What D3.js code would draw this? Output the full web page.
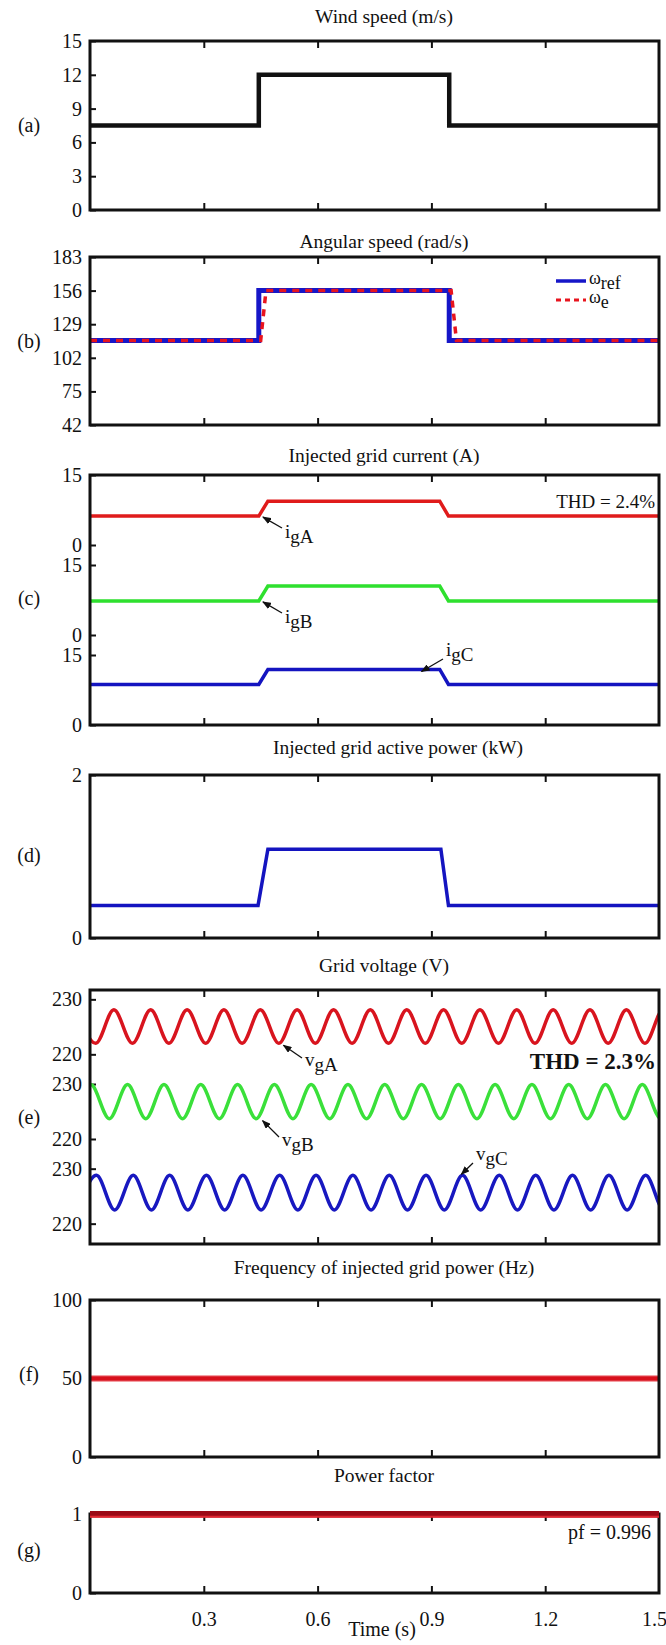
<!DOCTYPE html>
<html>
<head>
<meta charset="utf-8">
<script src="https://cdn.jsdelivr.net/npm/d3@7"></script>
<style>
  body { margin: 0; background: #fff; }
  text { font-family: "Liberation Serif", "DejaVu Serif", serif; fill: #111; }
</style>
</head>
<body>
<div id="chart"></div>
<script>
const W = 666, H = 1645;
const SERIF = '"Liberation Serif", "DejaVu Serif", serif';

// ---- data ----
const timeTicks = [0.3, 0.6, 0.9, 1.2, 1.5];

// (a) wind speed, m/s
const windT = [0, 0.445, 0.445, 0.947, 0.947, 1.5];
const windV = [7.5, 7.5, 12, 12, 7.5, 7.5];
const windTicks = [0, 3, 6, 9, 12, 15];

// (b) angular speed, rad/s
const omegaRefT = [0, 0.445, 0.445, 0.947, 0.947, 1.5];
const omegaRefV = [116, 116, 156, 156, 116, 116];
const omegaET = [0, 0.450, 0.464, 0.952, 0.966, 1.5];
const omegaEV = [116, 116, 156, 156, 116, 116];
const speedTicks = [48, 75, 102, 129, 156, 183];
const speedTickLabels = ["42", "75", "102", "129", "156", "183"];

// (c) injected grid current, A (one 0..15 strip per phase)
const currentT = [0, 0.445, 0.469, 0.922, 0.945, 1.5];
const igA = [6.2, 6.2, 9.4, 9.4, 6.2, 6.2];
const igB = [7.3, 7.3, 10.5, 10.5, 7.3, 7.3];
const igC = [8.7, 8.7, 11.9, 11.9, 8.7, 8.7];
const currentTicks = [0, 15];

// (d) injected active power, kW
const powerT = [0, 0.443, 0.469, 0.925, 0.945, 1.5];
const powerV = [0.4, 0.4, 1.09, 1.09, 0.4, 0.4];
const powerTicks = [0, 2];

// (e) grid voltage, V : times of crests / troughs and their levels
const vgAPeakT = [-0.033, 0.063, 0.160, 0.256, 0.353, 0.449, 0.546, 0.642, 0.739, 0.835, 0.932, 1.028, 1.125, 1.221, 1.318, 1.414, 1.511];
const vgATroughT = [0.015, 0.112, 0.208, 0.305, 0.401, 0.498, 0.594, 0.691, 0.787, 0.884, 0.980, 1.077, 1.173, 1.270, 1.366, 1.463, 1.559];
const vgBPeakT = [0.002, 0.099, 0.195, 0.292, 0.389, 0.486, 0.583, 0.680, 0.777, 0.874, 0.971, 1.068, 1.165, 1.262, 1.359, 1.456, 1.553];
const vgBTroughT = [-0.046, 0.051, 0.147, 0.244, 0.341, 0.438, 0.535, 0.632, 0.729, 0.826, 0.923, 1.020, 1.117, 1.214, 1.311, 1.408, 1.505];
const vgCPeakT = [0.017, 0.114, 0.210, 0.307, 0.403, 0.500, 0.596, 0.693, 0.789, 0.886, 0.982, 1.079, 1.175, 1.272, 1.368, 1.465, 1.561];
const vgCTroughT = [-0.031, 0.065, 0.162, 0.258, 0.355, 0.451, 0.548, 0.644, 0.741, 0.837, 0.934, 1.030, 1.127, 1.223, 1.320, 1.416, 1.513];
const vgALevels = [228.1, 222.0];
const vgBLevels = [229.9, 223.7];
const vgCLevels = [228.8, 222.5];
const voltTicks = [220, 230];

// (f) frequency, Hz
const freqT = [0, 1.5];
const freqV = [50, 50];
const freqTicks = [0, 50, 100];

// (g) power factor
const pfT = [0, 1.5];
const pfV = [0.996, 0.996];
const pfTicks = [0, 1];

// ---- layout ----
const svg = d3.select("#chart").append("svg").attr("width", W).attr("height", H);
const x = d3.scaleLinear().domain([0, 1.5]).range([90, 659]);
const intFmt = d3.format("~g");

svg.append("defs").append("marker")
  .attr("id", "arr").attr("markerUnits", "userSpaceOnUse")
  .attr("markerWidth", 9).attr("markerHeight", 7)
  .attr("refX", 8).attr("refY", 3.5).attr("orient", "auto")
  .append("path").attr("d", "M0,0L9,3.5L0,7Z").attr("fill", "#111");

svg.select("defs").append("clipPath").attr("id", "plotclip")
  .append("rect").attr("x", 90).attr("y", 0).attr("width", 569).attr("height", H);

function styleAxis(sel, size) {
  sel.attr("font-family", SERIF).attr("font-size", size);
  sel.select(".domain").remove();
  sel.selectAll(".tick line").attr("stroke", "#111").attr("stroke-width", 2);
  sel.selectAll(".tick text").attr("fill", "#111");
}

function panel(top, bottom, title, titleX, titleY, tag, tagY) {
  const g = svg.append("g");
  g.append("text").attr("x", titleX).attr("y", titleY).attr("text-anchor", "middle")
    .attr("font-size", 19.5).text(title);
  g.append("text").attr("x", 29).attr("y", tagY).attr("text-anchor", "middle")
    .attr("dominant-baseline", "middle").attr("font-size", 20).text(tag);
  g.append("g").attr("transform", `translate(0,${top})`)
    .call(d3.axisTop(x).tickValues(timeTicks.slice(0, 4)).tickSize(-7).tickFormat(""))
    .call(styleAxis, 19);
  g.append("g").attr("transform", `translate(0,${bottom})`)
    .call(d3.axisBottom(x).tickValues(timeTicks.slice(0, 4)).tickSize(-7).tickFormat(""))
    .call(styleAxis, 19);
  return g;
}

function yAxis(g, y, ticks, labels) {
  const ax = d3.axisLeft(y).tickValues(ticks).tickSize(-6).tickPadding(8)
    .tickFormat(labels ? (d, i) => labels[i] : intFmt);
  g.append("g").attr("transform", "translate(90,0)").call(ax).call(styleAxis, 20);
}

function border(g, top, bottom) {
  g.append("rect").attr("x", 90).attr("y", top).attr("width", 569).attr("height", bottom - top)
    .attr("fill", "none").attr("stroke", "#111").attr("stroke-width", 3);
}

function drawLine(g, y, ts, vs, color, width, curve) {
  const line = d3.line().x(d => x(d[0])).y(d => y(d[1])).curve(curve || d3.curveLinear);
  return g.append("path").datum(ts.map((t, i) => [t, vs[i]]))
    .attr("d", line).attr("fill", "none").attr("stroke", color)
    .attr("stroke-width", width).attr("stroke-linejoin", "miter");
}

function label(g, tx, ty, main, sub, size) {
  const t = g.append("text").attr("x", tx).attr("y", ty).attr("font-size", size || 19);
  t.append("tspan").text(main);
  t.append("tspan").attr("dy", 5).text(sub);
}

function arrow(g, x1, y1, x2, y2) {
  g.append("line").attr("x1", x1).attr("y1", y1).attr("x2", x2).attr("y2", y2)
    .attr("stroke", "#111").attr("stroke-width", 1.3).attr("marker-end", "url(#arr)");
}

// (a)
{
  const top = 41, bottom = 210;
  const g = panel(top, bottom, "Wind speed (m/s)", 384, 23, "(a)", 127);
  const y = d3.scaleLinear().domain([0, 15]).range([bottom, top]);
  yAxis(g, y, windTicks);
  drawLine(g, y, windT, windV, "#111", 4.5);
  border(g, top, bottom);
}

// (b)
{
  const top = 257, bottom = 425;
  const g = panel(top, bottom, "Angular speed (rad/s)", 384, 248, "(b)", 343);
  const y = d3.scaleLinear().domain([48, 183]).range([bottom, top]);
  yAxis(g, y, speedTicks, speedTickLabels);
  drawLine(g, y, omegaRefT, omegaRefV, "#1616c8", 5);
  drawLine(g, y, omegaET, omegaEV, "#e8141e", 3.5).attr("stroke-dasharray", "7,6");
  border(g, top, bottom);
  // legend
  const lx = 556, ly1 = 281, ly2 = 300;
  g.append("line").attr("x1", lx).attr("x2", lx + 30).attr("y1", ly1).attr("y2", ly1)
    .attr("stroke", "#1616c8").attr("stroke-width", 3.5);
  g.append("line").attr("x1", lx).attr("x2", lx + 30).attr("y1", ly2).attr("y2", ly2)
    .attr("stroke", "#e8141e").attr("stroke-width", 3).attr("stroke-dasharray", "5,4");
  label(g, lx + 33, ly1 + 3, "ω", "ref", 18);
  label(g, lx + 33, ly2 + 3, "ω", "e", 18);
}

// (c)
{
  const top = 475, bottom = 725;
  const g = panel(top, bottom, "Injected grid current (A)", 384, 462, "(c)", 600);
  const bands = [[475, 545], [565, 635], [655, 725]];
  const series = [[igA, "#e01b1b"], [igB, "#2ee02e"], [igC, "#1414c0"]];
  const ys = bands.map(b => d3.scaleLinear().domain([0, 15]).range([b[1], b[0]]));
  ys.forEach(y => yAxis(g, y, currentTicks));
  series.forEach((s, i) => drawLine(g, ys[i], currentT, s[0], s[1], 3.5));
  border(g, top, bottom);
  g.append("text").attr("x", 655).attr("y", 508).attr("text-anchor", "end")
    .attr("font-size", 19).text("THD = 2.4%");
  arrow(g, 282, 528, x(0.456), ys[0](igA[0]) + 1);
  label(g, 285, 538, "i", "gA");
  arrow(g, 282, 613, x(0.456), ys[1](igB[0]) + 1);
  label(g, 285, 623, "i", "gB");
  arrow(g, 443, 659, x(0.874), ys[2](igC[2]) + 2);
  label(g, 446, 656, "i", "gC");
}

// (d)
{
  const top = 775, bottom = 938;
  const g = panel(top, bottom, "Injected grid active power (kW)", 398, 754, "(d)", 857);
  const y = d3.scaleLinear().domain([0, 2]).range([bottom, top]);
  yAxis(g, y, powerTicks);
  drawLine(g, y, powerT, powerV, "#1414c0", 3.5);
  border(g, top, bottom);
}

// (e)
{
  const top = 990, bottom = 1244;
  const g = panel(top, bottom, "Grid voltage (V)", 384, 972, "(e)", 1119);
  const h = (bottom - top) / 3;
  const ys = [0, 1, 2].map(i => d3.scaleLinear().domain([216.3, 231.7]).range([top + h * (i + 1), top + h * i]));
  ys.forEach(y => yAxis(g, y, voltTicks));
  const waves = [
    [vgAPeakT, vgATroughT, vgALevels, "#d8141e"],
    [vgBPeakT, vgBTroughT, vgBLevels, "#3ae03a"],
    [vgCPeakT, vgCTroughT, vgCLevels, "#1818c0"]
  ];
  const cg = g.append("g").attr("clip-path", "url(#plotclip)");
  waves.forEach((w, i) => {
    const pts = w[0].map(t => [t, w[2][0]]).concat(w[1].map(t => [t, w[2][1]]))
      .sort((a, b) => a[0] - b[0]);
    drawLine(cg, ys[i], pts.map(p => p[0]), pts.map(p => p[1]), w[3], 3.5, d3.curveMonotoneX);
  });
  border(g, top, bottom);
  g.append("text").attr("x", 656).attr("y", 1069).attr("text-anchor", "end")
    .attr("font-family", '"Liberation Sans", Arial, sans-serif').attr("font-weight", "bold")
    .attr("font-size", 23).text("THD = 2.3%");
  arrow(g, 302, 1058, x(0.510), ys[0](vgALevels[1]) + 2);
  label(g, 305, 1066, "v", "gA");
  arrow(g, 279, 1137, x(0.455), ys[1](vgBLevels[1]) + 2);
  label(g, 282, 1146, "v", "gB");
  arrow(g, 473, 1163, x(0.979), ys[2](vgCLevels[0]) - 1);
  label(g, 476, 1160, "v", "gC");
}

// (f)
{
  const top = 1300, bottom = 1457;
  const g = panel(top, bottom, "Frequency of injected grid power (Hz)", 384, 1274, "(f)", 1376);
  const y = d3.scaleLinear().domain([0, 100]).range([bottom, top]);
  yAxis(g, y, freqTicks);
  drawLine(g, y, freqT, freqV, "#f4a0a4", 7);
  drawLine(g, y, freqT, freqV, "#d8101c", 4.5);
  border(g, top, bottom);
}

// (g)
{
  const top = 1514, bottom = 1593;
  const g = panel(top, bottom, "Power factor", 384, 1482, "(g)", 1552);
  const y = d3.scaleLinear().domain([0, 1]).range([bottom, top]);
  yAxis(g, y, pfTicks);
  border(g, top, bottom);
  drawLine(g, y, pfT, pfV, "#9c0a16", 6.5);
  drawLine(g, y, pfT, pfV.map(v => v - 0.03), "#e02832", 2);
  g.append("text").attr("x", 651).attr("y", 1539).attr("text-anchor", "end")
    .attr("font-size", 20).text("pf = 0.996");
  const xa = g.append("g").attr("transform", `translate(0,${bottom})`)
    .call(d3.axisBottom(x).tickValues(timeTicks).tickSize(0).tickPadding(19).tickFormat(d3.format(".1f")))
    .call(styleAxis, 20);
  xa.selectAll(".tick text").filter(d => d === 1.5).attr("dx", -5);
  g.append("text").attr("x", 382).attr("y", 1636).attr("text-anchor", "middle")
    .attr("font-size", 20).text("Time (s)");
}
</script>
</body>
</html>
